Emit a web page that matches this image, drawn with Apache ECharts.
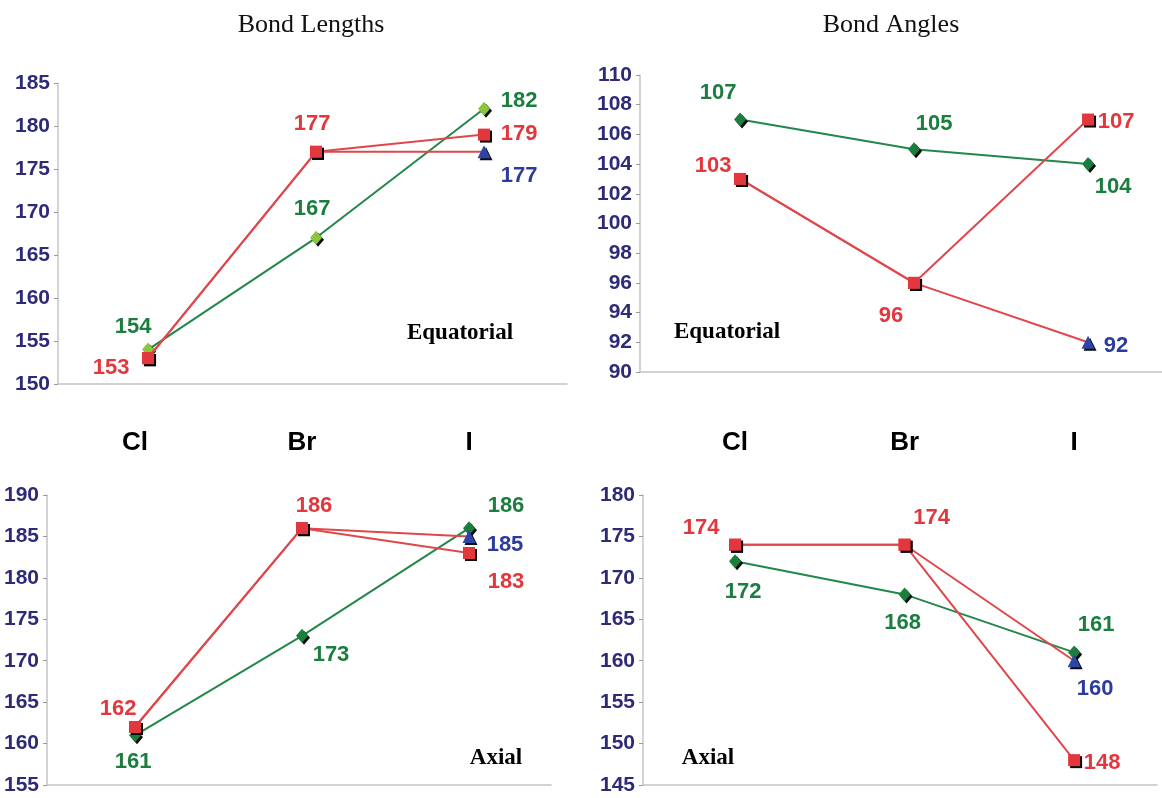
<!DOCTYPE html>
<html>
<head>
<meta charset="utf-8">
<script src="https://cdn.jsdelivr.net/npm/echarts@6/dist/echarts.min.js"></script>
<style>
html,body{margin:0;padding:0;background:#fff;}
#chart{width:1162px;height:798px;}
</style>
</head>
<body>
<div id="chart"></div>
<script>
// ---------- DATA ----------
const categories = ['Cl', 'Br', 'I'];

// Bond lengths, equatorial
const lenEqGreen = [154, 167, 182];
const lenEqRedA  = [153, 177, 179];
const lenEqRedB  = [153, 177, 177];
// Bond angles, equatorial
const angEqGreen = [107, 105, 104];
const angEqRedA  = [103, 96, 107];
const angEqRedB  = [103, 96, 92];
// Bond lengths, axial
const lenAxGreen = [161, 173, 186];
const lenAxRedA  = [162, 186, 183];
const lenAxRedB  = [162, 186, 185];
// Bond angles, axial
const angAxGreen = [172, 168, 161];
const angAxRedA  = [174, 174, 148];
const angAxRedB  = [174, 174, 160];

// y tick ranges [min, max, step]
const lenEqTicks = [150, 185, 5];
const angEqTicks = [90, 110, 2];
const lenAxTicks = [155, 190, 5];
const angAxTicks = [145, 180, 5];

// ---------- STYLE / LAYOUT ----------
const RED = '#e2373d', RED_LINE = '#e0474b';
const GREEN = '#1b7d3e', GREEN_LINE = '#23874a', LIGHT_GREEN = '#8cc63f';
const BLUE = '#2b46a6', BLUE_TXT = '#2c3c9c';
const NAVY = '#2d2b78';
const AXIS = '#c4c4c4';
const SANS = '"Liberation Sans", Arial, sans-serif';
const SERIF = '"Liberation Serif", "Times New Roman", serif';

const grids = [
  {left: 58, right: 595, top: 83, bottom: 414, xmin: -0.536, xmax: 2.494},
  {left: 640, right: 0, top: 75, bottom: 426, xmin: -0.575, xmax: 2.425},
  {left: 47, right: 611, top: 495, bottom: 13, xmin: -0.527, xmax: 2.491},
  {left: 643, right: 5, top: 495, bottom: 13, xmin: -0.543, xmax: 2.489}
];

// label offsets per chart: [green, redA, redB]; null = hidden
const labelOffsets = [
  [[[-15,-23],[-4,-29],[35,-8]], [[-37,10],[-4,-28],[35,-1]], [null,null,[35,24]]],
  [[[-22,-27],[20,-25],[25,23]], [[-27,-13],[-23,33],[28,2]], [null,null,[28,4]]],
  [[[-2,27],[29,19],[37,-22]], [[-17,-18],[12,-22],[37,29]], [null,null,[36,9]]],
  [[[8,31],[-2,29],[22,-27]], [[-34,-17],[27,-27],[28,3]], [null,null,[21,28]]]
];

const chartData = [
  [lenEqGreen, lenEqRedA, lenEqRedB],
  [angEqGreen, angEqRedA, angEqRedB],
  [lenAxGreen, lenAxRedA, lenAxRedB],
  [angAxGreen, angAxRedA, angAxRedB]
];
const tickSets = [lenEqTicks, angEqTicks, lenAxTicks, angAxTicks];

const shadow = {shadowColor: 'rgba(0,0,0,0.95)', shadowOffsetX: 2, shadowOffsetY: 2, shadowBlur: 0};

function makeItems(values, kind, offsets, chartIdx) {
  return values.map((v, i) => {
    let symbol = 'rect', size = 12, color = RED, txt = RED;
    if (kind === 'green') {
      symbol = 'diamond'; size = [12, 14];
      color = chartIdx === 0 ? LIGHT_GREEN : GREEN; txt = GREEN;
    } else if (kind === 'redB' && i === values.length - 1) {
      symbol = 'triangle'; size = 13; color = BLUE; txt = BLUE_TXT;
    }
    const off = offsets[i];
    return {
      value: [i, v],
      symbol: symbol,
      symbolSize: size,
      itemStyle: Object.assign({color: color}, shadow),
      label: off ? {
        show: true, position: 'inside', offset: off, color: txt,
        formatter: p => p.value[1],
        fontFamily: SANS, fontWeight: 'bold', fontSize: 22,
        align: 'center', verticalAlign: 'middle'
      } : {show: false}
    };
  });
}

const option = {
  animation: false,
  backgroundColor: '#fff',
  grid: grids.map(g => ({left: g.left, right: g.right, top: g.top, bottom: g.bottom, containLabel: false})),
  xAxis: [],
  yAxis: [],
  series: [],
  graphic: [
    {type: 'text', x: 311, y: 25, style: {text: 'Bond Lengths', font: '26px ' + SERIF, fill: '#111', align: 'center', verticalAlign: 'middle'}},
    {type: 'text', x: 891, y: 25, style: {text: 'Bond Angles', font: '26px ' + SERIF, fill: '#111', align: 'center', verticalAlign: 'middle'}},
    {type: 'text', x: 460, y: 333, style: {text: 'Equatorial', font: 'bold 23px ' + SERIF, fill: '#000', align: 'center', verticalAlign: 'middle'}},
    {type: 'text', x: 727, y: 332, style: {text: 'Equatorial', font: 'bold 23px ' + SERIF, fill: '#000', align: 'center', verticalAlign: 'middle'}},
    {type: 'text', x: 496, y: 758, style: {text: 'Axial', font: 'bold 23px ' + SERIF, fill: '#000', align: 'center', verticalAlign: 'middle'}},
    {type: 'text', x: 708, y: 758, style: {text: 'Axial', font: 'bold 23px ' + SERIF, fill: '#000', align: 'center', verticalAlign: 'middle'}}
  ]
};

grids.forEach((g, gi) => {
  option.xAxis.push({
    type: 'value', gridIndex: gi, min: g.xmin, max: g.xmax, position: 'bottom',
    axisLine: {show: true, onZero: false, lineStyle: {color: AXIS, width: 1.5}},
    axisTick: {show: false}, axisLabel: {show: false}, splitLine: {show: false}
  });
  const t = tickSets[gi];
  option.yAxis.push({
    type: 'value', gridIndex: gi, min: t[0], max: t[1], interval: t[2], position: 'left',
    axisLine: {show: true, onZero: false, lineStyle: {color: AXIS, width: 1.5}},
    axisTick: {show: true, length: 4, lineStyle: {color: '#999'}},
    axisLabel: {color: NAVY, fontFamily: SANS, fontWeight: 'bold', fontSize: 21, margin: 8},
    splitLine: {show: false}
  });
});
// category labels above the lower charts
[2, 3].forEach(gi => {
  const g = grids[gi];
  option.xAxis.push({
    type: 'value', gridIndex: gi, min: g.xmin, max: g.xmax, position: 'top',
    axisLine: {show: false, onZero: false}, axisTick: {show: false}, splitLine: {show: false},
    axisLabel: {
      show: true, customValues: [0, 1, 2],
      formatter: v => categories[Math.round(v)] || '',
      color: '#000', fontFamily: SANS, fontWeight: 'bold', fontSize: 26, margin: 39
    }
  });
});

chartData.forEach((sets, gi) => {
  const kinds = ['green', 'redB', 'redA'];
  const idx = {green: 0, redA: 1, redB: 2};
  kinds.forEach(kind => {
    const k = idx[kind];
    option.series.push({
      type: 'line', xAxisIndex: gi, yAxisIndex: gi,
      data: makeItems(sets[k], kind, labelOffsets[gi][k], gi),
      lineStyle: {color: kind === 'green' ? GREEN_LINE : RED_LINE, width: 2},
      z: kind === 'green' ? 2 : (kind === 'redB' ? 3 : 4),
      silent: true
    });
  });
});

const chart = echarts.init(document.getElementById('chart'), null, {renderer: 'canvas'});
chart.setOption(option);
</script>
</body>
</html>
